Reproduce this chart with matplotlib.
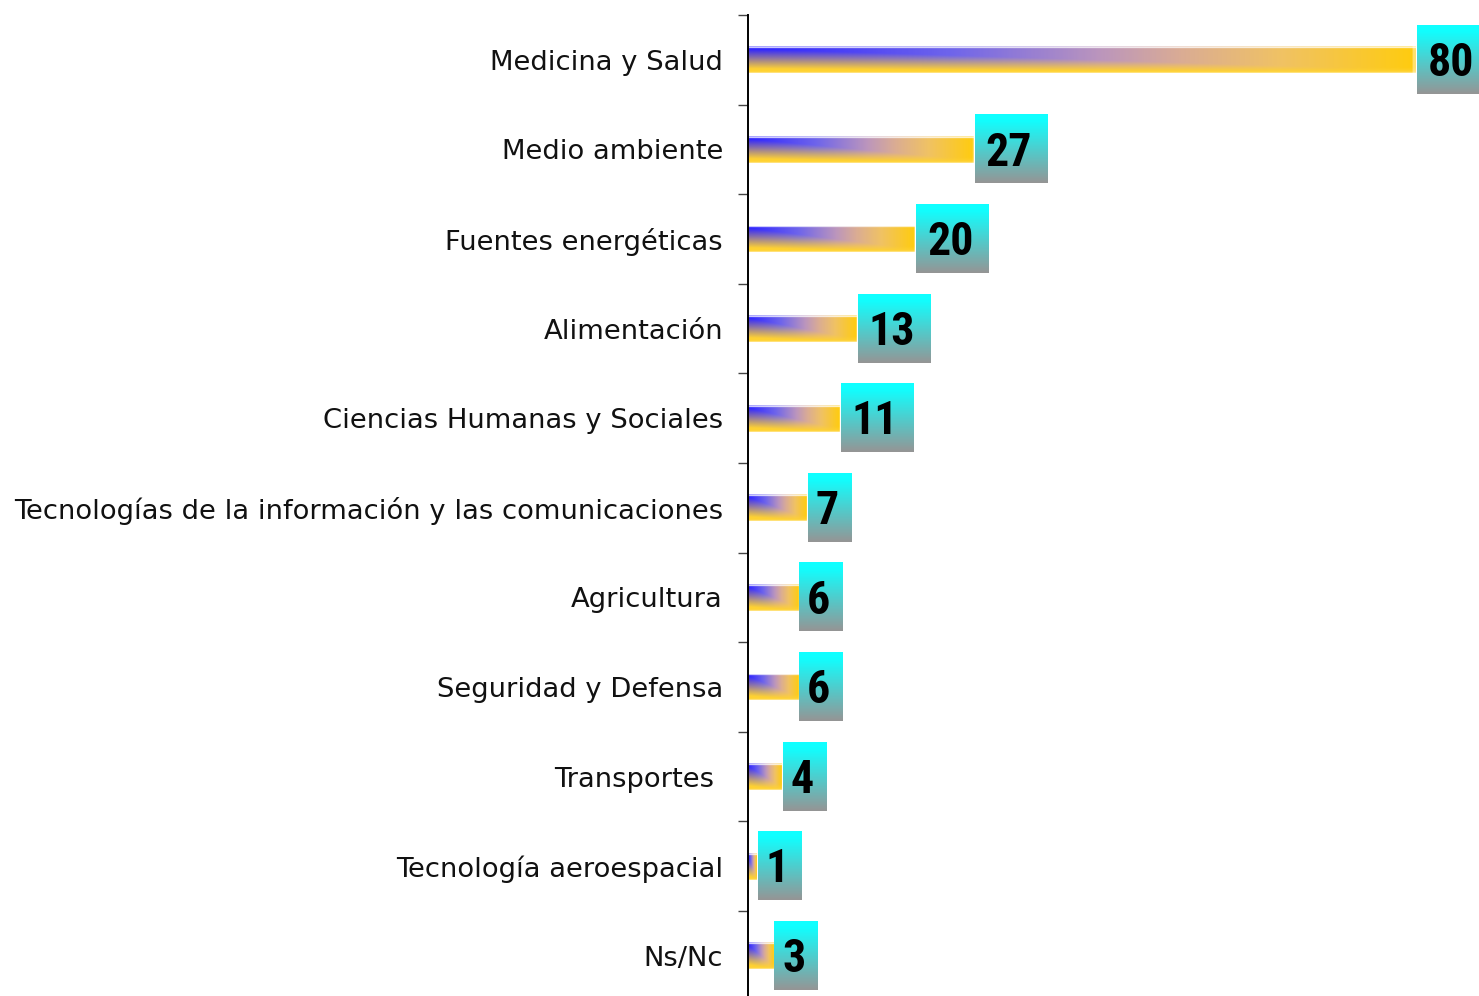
import numpy as np
import matplotlib
matplotlib.use("Agg")
import matplotlib.pyplot as plt
from matplotlib import font_manager
from matplotlib.colors import LinearSegmentedColormap, to_rgb

categories = [
    "Medicina y Salud",
    "Medio ambiente",
    "Fuentes energéticas",
    "Alimentación",
    "Ciencias Humanas y Sociales",
    "Tecnologías de la información y las comunicaciones",
    "Agricultura",
    "Seguridad y Defensa",
    "Transportes ",
    "Tecnología aeroespacial",
    "Ns/Nc",
]
values = [80, 27, 20, 13, 11, 7, 6, 6, 4, 1, 3]


def narrow_bold_font():
    """Pick a narrow bold sans face for the value labels."""
    fonts = font_manager.fontManager.ttflist
    wanted = ["Liberation Sans Narrow", "Roboto Condensed", "Open Sans Condensed",
              "Noto Sans Condensed", "DejaVu Sans Condensed"]
    for name in wanted:
        for f in fonts:
            if f.name == name and f.weight in ("bold", 700) and f.style == "normal":
                return dict(fname=f.fname)
    for f in fonts:
        if f.name == "DejaVu Sans" and f.stretch == "condensed" and f.weight in ("bold", 700):
            return dict(fname=f.fname)
    return dict(family="DejaVu Sans", weight="bold")


W, H, DPI = 1479, 996, 100
fig = plt.figure(figsize=(W / DPI, H / DPI), dpi=DPI)
fig.patch.set_facecolor("white")

ax_left, ax_top = 748, 15
row_px = 89.6
n = len(categories)
ax_h = row_px * n
ax = fig.add_axes([ax_left / W, 1 - (ax_top + ax_h) / H, (W - ax_left) / W, ax_h / H])
px_per_unit = 8.35
xmax = (W - ax_left) / px_per_unit

ypos = np.arange(n)
bar_h = 0.3
bars = ax.barh(ypos, values, height=bar_h, facecolor="none", edgecolor="none")

# colour run along the top edge of each bar, blue to amber
top_cmap = LinearSegmentedColormap.from_list("top", [
    (0.00, (45 / 255, 35 / 255, 1.0)),
    (0.30, (110 / 255, 100 / 255, 235 / 255)),
    (0.53, (188 / 255, 150 / 255, 188 / 255)),
    (0.65, (218 / 255, 172 / 255, 148 / 255)),
    (0.80, (240 / 255, 194 / 255, 100 / 255)),
    (1.00, (1.0, 204 / 255, 15 / 255)),
])
amber = np.array(to_rgb("#ffd232"))
nx, ny = 400, 54
gx = np.linspace(0, 1, nx)
gy = np.linspace(0, 1, ny)[:, None]
top_row = top_cmap(gx)[:, :3][None, :, :]
# vertical fade into amber; the blue wedge deepens toward the right
lo = np.minimum(0.10 + 0.80 * gx, 0.80)[None, :]
hi = np.minimum(0.85 + 0.15 * gx, 0.98)[None, :]
v = np.clip((gy - lo) / (hi - lo), 0, 1)
grad = top_row * (1 - v[..., None]) + amber * v[..., None]
# light rim: top highlight, right and bottom edges
grad[0:2] = grad[0:2] * 0.45 + 0.55
grad[2:4] = grad[2:4] * 0.1 + 0.9
grad[-2:] = grad[-2:] * 0.6 + 0.4
grad[:, -2:] = grad[:, -2:] * 0.6 + 0.4

for patch in bars.patches:
    x0, y0 = patch.get_x(), patch.get_y()
    x1, y1 = x0 + patch.get_width(), y0 + patch.get_height()
    im = ax.imshow(grad, extent=[x0, x1, y1, y0], aspect="auto",
                   interpolation="bilinear", zorder=2)
    im.set_clip_path(patch)

# value labels in cyan-to-gray boxes
t = np.linspace(0, 1, 100)
t = np.clip((t - 0.08) / 0.92, 0, 1)[:, None, None]
cyan = np.array(to_rgb("#10ffff"))
gray = np.array(to_rgb("#959595"))
box_img = np.repeat((1 - t) * cyan + t * gray, 2, axis=1)
box_h = 0.76
num_font = narrow_bold_font()
for y, val in zip(ypos, values):
    txt = str(val)
    bw = (15 + 29 * len(txt)) / px_per_unit
    bx0 = val + 1.2 / px_per_unit
    ax.imshow(box_img, extent=[bx0, bx0 + bw, y + box_h / 2, y - box_h / 2],
              aspect="auto", interpolation="bilinear", zorder=3, clip_on=False)
    ax.text(bx0 + bw / 2 - 0.3, y + 0.035, txt, ha="center", va="center",
            fontproperties=font_manager.FontProperties(size=33, **num_font),
            color="black", zorder=4, clip_on=False)

ax.set_xlim(0, xmax)
ax.set_ylim(n - 0.5, -0.5)

for s in ["top", "right", "bottom"]:
    ax.spines[s].set_visible(False)
ax.spines["left"].set_color("black")
ax.spines["left"].set_linewidth(1.4)
ax.spines["left"].set_zorder(5)
ax.set_xticks([])

ax.set_yticks(np.arange(-0.5, n, 1.0))
ax.set_yticklabels([])
ax.tick_params(axis="y", which="major", length=7, width=1, color="#444444", direction="out")
ax.set_yticks(ypos, minor=True)
ax.set_yticklabels(categories, minor=True, fontsize=19.7, fontfamily="DejaVu Sans",
                   color="#111111")
ax.tick_params(axis="y", which="minor", length=0, pad=18)
ax.set_facecolor("none")

fig.savefig("out.png", dpi=DPI, facecolor="white")
